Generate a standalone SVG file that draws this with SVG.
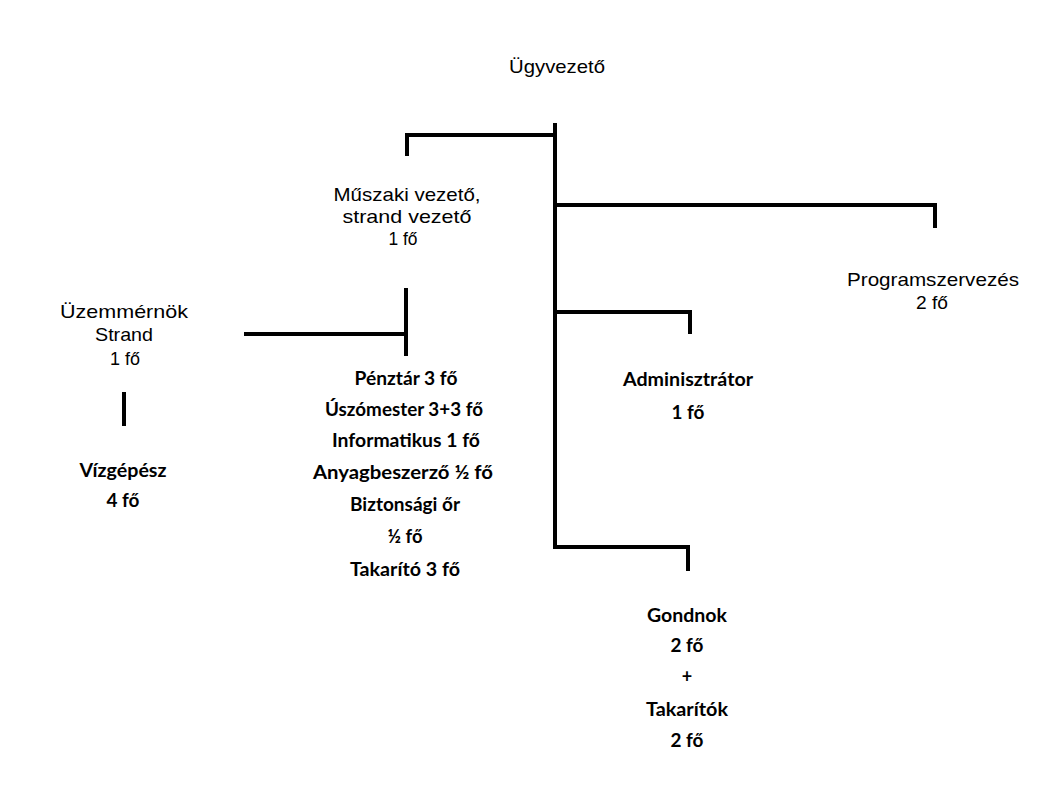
<svg xmlns="http://www.w3.org/2000/svg" width="1048" height="787" viewBox="0 0 1048 787">
<style>
.reg{font-family:"Liberation Sans",Arial,sans-serif;font-size:19px;fill:#000;text-anchor:middle}
.bld{font-family:Lato,"Open Sans",sans-serif;font-weight:bold;font-size:18px;fill:#000;text-anchor:middle}
.ln{fill:none;stroke:#000;stroke-width:4;stroke-linecap:square;stroke-linejoin:miter}
</style>
<rect width="1048" height="787" fill="#fff"/>
<g id="connectors">
<path class="ln" d="M555,125 V547"/>
<path class="ln" d="M407,154 V135 H555"/>
<path class="ln" d="M555,205 H935 V226"/>
<path class="ln" d="M555,312 H690 V332"/>
<path class="ln" d="M555,547 H688 V569"/>
<path class="ln" d="M406,290 V354"/>
<path class="ln" d="M246,334 H406"/>
<path class="ln" d="M124,394 V424"/>
</g>
<g id="ugyvezeto">
<text class="reg" x="557" y="73" textLength="96" lengthAdjust="spacingAndGlyphs">Ügyvezető</text>
</g>
<g id="muszaki">
<text class="reg" x="407" y="201" textLength="147" lengthAdjust="spacingAndGlyphs">Műszaki vezető,</text>
<text class="reg" x="407" y="223" textLength="129" lengthAdjust="spacingAndGlyphs">strand vezető</text>
<text class="reg" x="403" y="245" textLength="29" lengthAdjust="spacingAndGlyphs">1 fő</text>
</g>
<g id="programszervezes">
<text class="reg" x="933" y="286" textLength="172" lengthAdjust="spacingAndGlyphs">Programszervezés</text>
<text class="reg" x="932" y="309" textLength="32" lengthAdjust="spacingAndGlyphs">2 fő</text>
</g>
<g id="uzemmernok">
<text class="reg" x="124" y="318" textLength="128" lengthAdjust="spacingAndGlyphs">Üzemmérnök</text>
<text class="reg" x="124" y="341" textLength="58" lengthAdjust="spacingAndGlyphs">Strand</text>
<text class="reg" x="125" y="365" textLength="30" lengthAdjust="spacingAndGlyphs">1 fő</text>
</g>
<g id="vizgepesz">
<text class="bld" x="123" y="477" textLength="87" lengthAdjust="spacingAndGlyphs">Vízgépész</text>
<text class="bld" x="123" y="507" textLength="33" lengthAdjust="spacingAndGlyphs">4 fő</text>
</g>
<g id="strand-staff">
<text class="bld" x="406" y="385" textLength="103" lengthAdjust="spacingAndGlyphs">Pénztár 3 fő</text>
<text class="bld" x="404" y="416" textLength="158" lengthAdjust="spacingAndGlyphs">Úszómester 3+3 fő</text>
<text class="bld" x="406" y="447" textLength="148" lengthAdjust="spacingAndGlyphs">Informatikus 1 fő</text>
<text class="bld" x="403" y="479" textLength="180" lengthAdjust="spacingAndGlyphs">Anyagbeszerző ½  fő</text>
<text class="bld" x="405" y="511" textLength="110" lengthAdjust="spacingAndGlyphs">Biztonsági őr</text>
<text class="bld" x="405" y="543" textLength="35" lengthAdjust="spacingAndGlyphs">½ fő</text>
<text class="bld" x="405" y="576" textLength="110" lengthAdjust="spacingAndGlyphs">Takarító 3 fő</text>
</g>
<g id="adminisztrator">
<text class="bld" x="688" y="386" textLength="130" lengthAdjust="spacingAndGlyphs">Adminisztrátor</text>
<text class="bld" x="688" y="419" textLength="33" lengthAdjust="spacingAndGlyphs">1 fő</text>
</g>
<g id="gondnok">
<text class="bld" x="687" y="622" textLength="80" lengthAdjust="spacingAndGlyphs">Gondnok</text>
<text class="bld" x="687" y="652" textLength="33" lengthAdjust="spacingAndGlyphs">2 fő</text>
<text class="bld" x="687" y="683">+</text>
<text class="bld" x="687" y="716" textLength="82" lengthAdjust="spacingAndGlyphs">Takarítók</text>
<text class="bld" x="687" y="747" textLength="33" lengthAdjust="spacingAndGlyphs">2 fő</text>
</g>
</svg>
